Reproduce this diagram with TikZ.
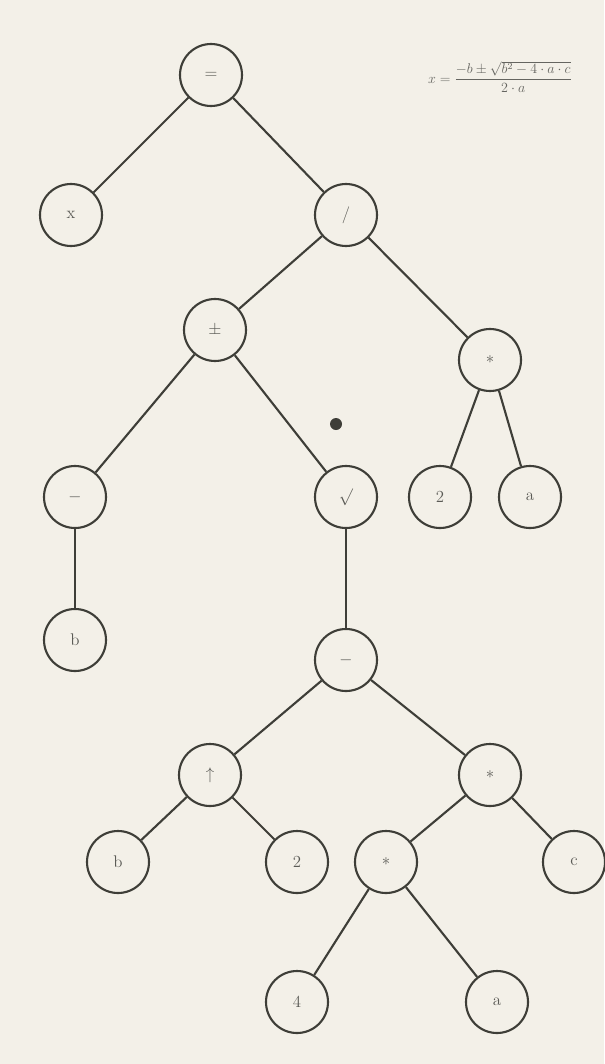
\documentclass[tikz,border=0pt]{standalone}
\usepackage{amsmath}
\usepackage{amssymb}
\usepackage{xcolor}
\usetikzlibrary{positioning, calc}
\definecolor{paper}{RGB}{243,240,232}
\definecolor{ink}{RGB}{62,62,56}

\begin{document}
\begin{tikzpicture}[
        x=0.03cm, y=-0.03cm,
        op/.style={circle, draw=ink, line width=1.8pt, fill=paper,
                   minimum size=1.86cm, inner sep=0pt, font=\Large, text=ink!85},
        edge/.style={draw=ink, line width=1.8pt}
      ]
        \fill[paper] (0,0) rectangle (604,1064);
        \useasboundingbox (0,0) rectangle (604,1064);

        % formula in the corner
        \node[anchor=west, font=\large, text=ink!80, inner sep=0pt] (formula) at (428,77)
              {$x = \dfrac{-b\pm\sqrt{b^2-4\cdot a\cdot c}}{2\cdot a}$};

        % the tree
        \node[op] (root) at (211,75) {$=$};
        \node[op] (x) at (71,215) {x};
        \node[op] (div) at (346,215) {$/$};
        \node[op] (pm) at (215,330) {$\pm$};
        \node[op] (twoa) at (490,360) {$\ast$};
        \node[op] (neg) at (75,497) {$-$};
        \node[op] (root2) at (346,497) {$\surd$};
        \node[op] (two) at (440,497) {2};
        \node[op] (a) at (530,497) {a};
        \node[op] (b) at (75,640) {b};
        \node[op] (sub) at (346,660) {$-$};
        \node[op] (pow) at (210,775) {$\uparrow$};
        \node[op] (fourac) at (490,775) {$\ast$};
        \node[op] (bb) at (118,862) {b};
        \node[op] (twob) at (297,862) {2};
        \node[op] (foura) at (386,862) {$\ast$};
        \node[op] (c) at (574,862) {c};
        \node[op] (four) at (297,1002) {4};
        \node[op] (aa) at (497,1002) {a};

        \draw[edge] (root) -- (x);
        \draw[edge] (root) -- (div);
        \draw[edge] (div) -- (pm);
        \draw[edge] (div) -- (twoa);
        \draw[edge] (pm) -- (neg);
        \draw[edge] (pm) -- (root2);
        \draw[edge] (twoa) -- (two);
        \draw[edge] (twoa) -- (a);
        \draw[edge] (neg) -- (b);
        \draw[edge] (root2) -- (sub);
        \draw[edge] (sub) -- (pow);
        \draw[edge] (sub) -- (fourac);
        \draw[edge] (pow) -- (bb);
        \draw[edge] (pow) -- (twob);
        \draw[edge] (fourac) -- (foura);
        \draw[edge] (fourac) -- (c);
        \draw[edge] (foura) -- (four);
        \draw[edge] (foura) -- (aa);

        % ink blot
        \fill[ink] (336,424) circle (6);
      \end{tikzpicture}
\end{document}
